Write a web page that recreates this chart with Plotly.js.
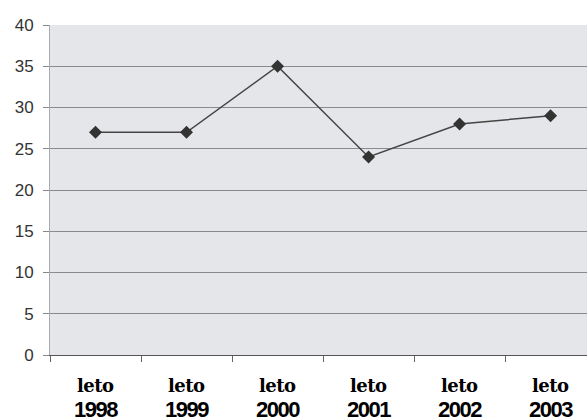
<!DOCTYPE html>
<html>
<head>
<meta charset="utf-8">
<script src="https://cdn.plot.ly/plotly-3.0.1.min.js"></script>
<style>
  html, body { margin: 0; padding: 0; background: #ffffff; }
  #chart { width: 587px; height: 420px; }
  #chart .xtick text { letter-spacing: -1.5px; }
  #chart .annotation-text { letter-spacing: -0.5px; }
</style>
</head>
<body>
<div id="chart"></div>
<script>
// Summer seasons and their values
const season = "leto";
const years = ["1998", "1999", "2000", "2001", "2002", "2003"];
const values = [27, 27, 35, 24, 28, 29];
const yTicks = [0, 5, 10, 15, 20, 25, 30, 35, 40];

const trace = {
  type: "scatter",
  mode: "lines+markers",
  x: years,
  y: values,
  line: { color: "#444444", width: 1.5 },
  marker: { symbol: "diamond", size: 10, color: "#333333" },
  hoverinfo: "skip"
};

// Serif season word above each year label (positioned by category index)
const seasonLabels = years.map((y, i) => ({
  x: i,
  xref: "x",
  y: 0,
  yref: "paper",
  yanchor: "middle",
  yshift: -30,
  text: season,
  showarrow: false,
  font: { family: "DejaVu Serif", size: 18, color: "#000000", weight: 700 }
}));

const layout = {
  width: 587,
  height: 420,
  margin: { l: 50, r: 0, t: 25, b: 65 },
  paper_bgcolor: "#ffffff",
  plot_bgcolor: "#e4e6e9",
  showlegend: false,
  annotations: seasonLabels,
  xaxis: {
    type: "category",
    range: [-0.5, 5.4],
    tickson: "boundaries",
    ticks: "outside",
    ticklen: 6,
    tickcolor: "#666666",
    ticklabelstandoff: 35,
    showline: true,
    linecolor: "#555555",
    linewidth: 1,
    showgrid: false,
    zeroline: false,
    tickfont: { family: "Liberation Sans, Arial, sans-serif", size: 22, color: "#000000", weight: "bold" },
    fixedrange: true
  },
  yaxis: {
    range: [0, 40],
    tickvals: yTicks,
    ticktext: yTicks.map(String),
    ticks: "outside",
    ticklen: 6,
    tickcolor: "#888888",
    ticklabelstandoff: 6,
    showline: true,
    linecolor: "#aaaaaa",
    linewidth: 1,
    showgrid: true,
    gridcolor: "#8a8a8a",
    gridwidth: 1,
    zeroline: false,
    tickfont: { family: "Liberation Sans, Arial, sans-serif", size: 17, color: "#333333" },
    fixedrange: true
  }
};

Plotly.newPlot("chart", [trace], layout, { displayModeBar: false, staticPlot: true });
</script>
</body>
</html>
